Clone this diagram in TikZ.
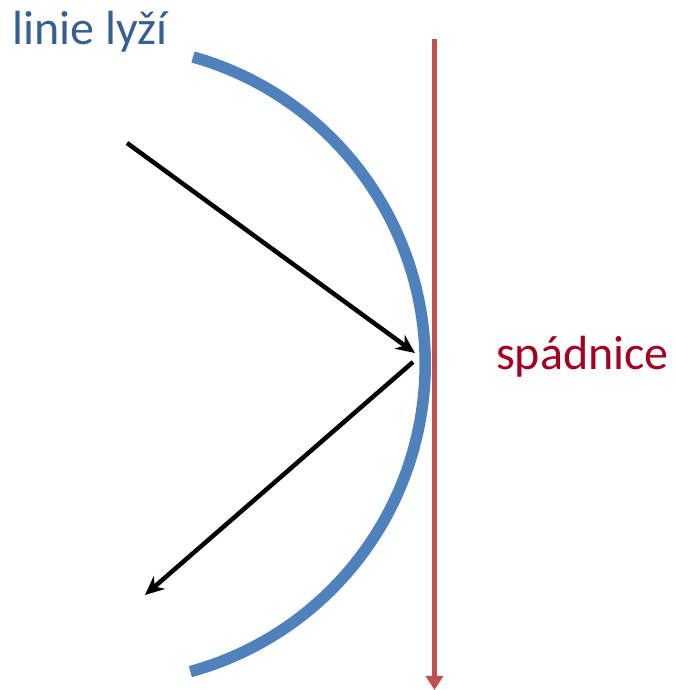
\documentclass[tikz,border=0pt]{standalone}
\usepackage{fontspec}
\setmainfont{Carlito}
\usetikzlibrary{arrows.meta}

\definecolor{lyzeblue}{RGB}{79,129,189}
\definecolor{lyzetext}{RGB}{54,96,146}
\definecolor{spadred}{RGB}{192,80,77}
\definecolor{spadtext}{RGB}{165,0,33}

\begin{document}
\begin{tikzpicture}[x=1pt, y=1pt, >={Stealth[length=19pt, width=17pt]}]
    \useasboundingbox (0,0) rectangle (676,690);
    % popisky
    \node[anchor=base west, inner sep=0pt, font=\fontsize{48}{52}\selectfont, text=lyzetext] (lyze) at (12,645) {linie lyží};
    \node[anchor=base west, inner sep=0pt, font=\fontsize{48}{52}\selectfont, text=spadtext] (spad) at (496,320) {spádnice};
    % body
    \coordinate (arctop) at (193,633);
    \coordinate (spadtop) at (434.5,651);
    \coordinate (spadbot) at (434.5,0);
    \coordinate (instart) at (127,547);
    \coordinate (turn1) at (415,337);
    \coordinate (turn2) at (413,328);
    \coordinate (outend) at (145,95);
    % linie lyzi
    \draw[lyzeblue, line width=11.5pt] (arctop) arc[start angle=74.2, end angle=-74.7, radius=319pt];
    % spadnice
    \draw[spadred, line width=5pt, -{Triangle[length=14pt, width=17pt]}] (spadtop) -- (spadbot);
    % smer jizdy
    \draw[->, line width=4.5pt] (instart) -- (turn1);
    \draw[->, line width=4.5pt] (turn2) -- (outend);
\end{tikzpicture}
\end{document}
